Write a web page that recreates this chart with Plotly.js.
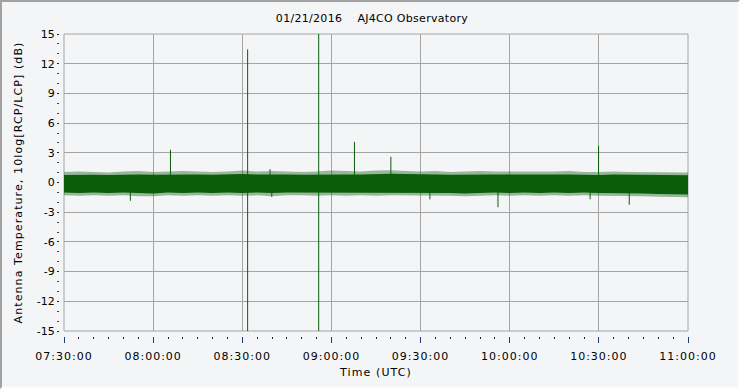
<!DOCTYPE html>
<html>
<head>
<meta charset="utf-8">
<script src="https://cdn.plot.ly/plotly-3.0.1.min.js"></script>
<style>
html,body{margin:0;padding:0;background:#f4f5f7;}
#chart{width:736px;height:385px;border-left:2px solid #a2a2a2;border-top:2px solid #a2a2a2;border-right:2px solid #fdfdfd;border-bottom:2px solid #fdfdfd;}
.gtitle{letter-spacing:0.3px;}
.xtitle,.ytitle{letter-spacing:1.1px;}
.xtick text{letter-spacing:1px;}
</style>
</head>
<body>
<div id="chart"></div>
<script>
// ---- data ----
const bandTimes = ["07:30","07:35","07:40","07:45","07:50","07:55","08:00","08:05","08:10","08:15","08:20","08:25","08:30","08:35","08:40","08:45","08:50","08:55","09:00","09:05","09:10","09:15","09:20","09:25","09:30","09:35","09:40","09:45","09:50","09:55","10:00","10:05","10:10","10:15","10:20","10:25","10:30","10:35","10:40","10:45","10:50","10:55","11:00"];
const upperInner = [0.75,0.8,0.78,0.75,0.8,0.82,0.78,0.8,0.85,0.8,0.78,0.82,0.85,0.8,0.82,0.8,0.78,0.8,0.85,0.82,0.8,0.85,0.88,0.85,0.8,0.82,0.78,0.8,0.85,0.82,0.8,0.78,0.75,0.8,0.82,0.78,0.75,0.8,0.78,0.75,0.72,0.75,0.72];
const upperOuter = [1.05,1.1,1.05,1.0,1.1,1.15,1.05,1.1,1.15,1.1,1.05,1.1,1.2,1.1,1.15,1.1,1.05,1.1,1.2,1.15,1.1,1.2,1.25,1.15,1.1,1.15,1.05,1.1,1.15,1.1,1.1,1.05,1.05,1.1,1.15,1.05,1.05,1.1,1.05,1.05,1.0,1.05,1.0];
const lowerInner = [-1.0,-1.05,-1.0,-1.05,-1.0,-1.05,-1.1,-1.0,-1.05,-1.0,-1.05,-1.0,-1.05,-1.0,-1.05,-1.0,-1.0,-1.05,-1.0,-1.05,-1.0,-1.05,-1.0,-1.0,-1.05,-1.0,-1.05,-1.1,-1.05,-1.0,-1.05,-1.0,-1.05,-1.0,-1.05,-1.0,-1.05,-1.05,-1.1,-1.1,-1.15,-1.15,-1.2];
const lowerOuter = [-1.3,-1.35,-1.3,-1.35,-1.3,-1.4,-1.4,-1.3,-1.35,-1.3,-1.35,-1.3,-1.35,-1.3,-1.4,-1.3,-1.3,-1.35,-1.3,-1.35,-1.3,-1.35,-1.3,-1.3,-1.35,-1.3,-1.35,-1.4,-1.35,-1.3,-1.35,-1.3,-1.35,-1.3,-1.35,-1.3,-1.35,-1.35,-1.4,-1.4,-1.45,-1.45,-1.5];

const spikeTimes  = ["07:52:20","08:05:50","08:31:48","08:39:20","08:39:55","08:55:43","09:07:45","09:20:00","09:33:08","09:56:03","10:27:04","10:29:54","10:40:14"];
const spikeTop    = [0,   3.3, 13.45, 1.35, 0,    16,  4.1, 2.6, 0,   0,   0,   3.7, 0];
const spikeBottom = [-1.85, 0, -16,   0,   -1.45, -16, 0,   0,   -1.7,-2.5,-1.7, 0,  -2.25];

const yTickVals = [-15,-12,-9,-6,-3,0,3,6,9,12,15];
const yTickText = ["-15","-12","-9","-6","-3","0","3","6","9","12","15"];
const xTickVals = ["07:30:00","08:00:00","08:30:00","09:00:00","09:30:00","10:00:00","10:30:00","11:00:00"];

// ---- build traces ----
const day = "2016-01-21 ";
const bx = bandTimes.map(t => day + t + ":00");
const green = "#0b5c0b";

const sx = [], sy = [];
spikeTimes.forEach((t, i) => {
  sx.push(day + t, day + t, null);
  sy.push(spikeBottom[i], spikeTop[i], null);
});

const traces = [
  {x: bx, y: upperOuter, mode: "lines", line: {width: 0, color: green}, hoverinfo: "skip", showlegend: false},
  {x: bx, y: lowerOuter, mode: "lines", line: {width: 0, color: green}, fill: "tonexty", fillcolor: "rgba(11,92,11,0.4)", hoverinfo: "skip", showlegend: false},
  {x: bx, y: upperInner, mode: "lines", line: {width: 0, color: green}, hoverinfo: "skip", showlegend: false},
  {x: bx, y: lowerInner, mode: "lines", line: {width: 0, color: green}, fill: "tonexty", fillcolor: green, hoverinfo: "skip", showlegend: false},
  {x: sx, y: sy, mode: "lines", line: {width: 1, color: green}, connectgaps: false, hoverinfo: "skip", showlegend: false}
];

const W = 736, H = 385;
const ml = 54, mr = 50, mt = 32, mb = 51;
const pw = W - ml - mr, ph = H - mt - mb;
const font = "DejaVu Sans, Verdana, sans-serif";

const layout = {
  width: W, height: H,
  margin: {l: ml, r: mr, t: mt, b: mb, pad: 0},
  paper_bgcolor: "#f4f5f7",
  plot_bgcolor: "#f4f5f7",
  font: {family: font, size: 11, color: "#000"},
  title: {text: "01/21/2016\u00a0\u00a0\u00a0\u00a0AJ4CO Observatory", font: {family: font, size: 11, color: "#000"}, x: 0.5, xanchor: "center", y: 1 - 16/385, yanchor: "middle", xref: "paper"},
  xaxis: {
    type: "date",
    range: [day + "07:30:00", day + "11:00:00"],
    domain: [(62 - ml) / pw, 1],
    anchor: "free", position: 0,
    tickvals: xTickVals.map(t => day + t),
    tickformat: "%H:%M:%S",
    ticks: "outside", ticklen: 6, tickwidth: 1, tickcolor: "#1d3f80",
    ticklabelstandoff: 4,
    minor: {dtick: 300000, ticks: "outside", ticklen: 2, tickwidth: 1, tickcolor: "#222", showgrid: false},
    showgrid: true, gridcolor: "#a4a4a4", gridwidth: 1,
    showline: false, zeroline: false,
    tickfont: {family: font, size: 11, color: "#000"},
    title: {text: "Time (UTC)", font: {family: font, size: 11, color: "#000"}, standoff: 6}
  },
  yaxis: {
    range: [-15, 15],
    domain: [5 / ph, 1],
    anchor: "free", position: (57 - ml) / pw,
    tickvals: yTickVals, ticktext: yTickText,
    ticks: "outside", ticklen: 2, tickwidth: 1, tickcolor: "#222",
    minor: {dtick: 1, ticks: "outside", ticklen: 2, tickwidth: 1, tickcolor: "#444", showgrid: false},
    showgrid: true, gridcolor: "#a4a4a4", gridwidth: 1,
    showline: false, zeroline: false,
    tickfont: {family: font, size: 11, color: "#000"},
    title: {text: "Antenna Temperature, 10log[RCP/LCP] (dB)", font: {family: font, size: 11, color: "#000"}, standoff: 10}
  },
  shapes: [
    {type: "rect", xref: "x domain", yref: "y domain", x0: 0, x1: 1, y0: 0, y1: 1, line: {color: "#a4a4a4", width: 1}, fillcolor: "rgba(0,0,0,0)", layer: "below"}
  ]
};

Plotly.newPlot("chart", traces, layout, {staticPlot: true, displayModeBar: false});
</script>
</body>
</html>
